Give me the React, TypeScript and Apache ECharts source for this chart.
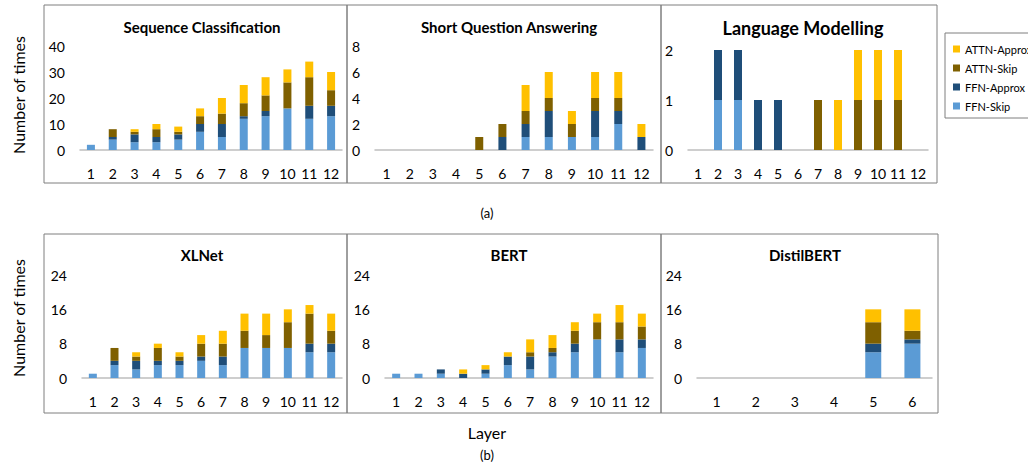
import React, { useEffect, useRef } from "react";
import * as echarts from "echarts";

const layers12 = ["1", "2", "3", "4", "5", "6", "7", "8", "9", "10", "11", "12"];
const layers6 = ["1", "2", "3", "4", "5", "6"];
const legendOrder = ["ATTN-Approx", "ATTN-Skip", "FFN-Approx", "FFN-Skip"];

// Sequence Classification
const seqFfnSkip = [2, 4, 3, 3, 4, 7, 5, 12, 13, 16, 12, 13];
const seqFfnApprox = [0, 1, 3, 2, 2, 3, 5, 1, 2, 0, 5, 4];
const seqAttnSkip = [0, 3, 1, 3, 1, 3, 4, 5, 6, 10, 11, 6];
const seqAttnApprox = [0, 0, 1, 2, 2, 3, 6, 7, 7, 5, 6, 7];

// Short Question Answering
const sqaFfnSkip = [0, 0, 0, 0, 0, 0, 1, 1, 1, 1, 2, 0];
const sqaFfnApprox = [0, 0, 0, 0, 0, 1, 1, 2, 0, 2, 1, 1];
const sqaAttnSkip = [0, 0, 0, 0, 1, 1, 1, 1, 1, 1, 1, 0];
const sqaAttnApprox = [0, 0, 0, 0, 0, 0, 2, 2, 1, 2, 2, 1];

// Language Modelling
const lmFfnSkip = [0, 1, 1, 0, 0, 0, 0, 0, 0, 0, 0, 0];
const lmFfnApprox = [0, 1, 1, 1, 1, 0, 0, 0, 0, 0, 0, 0];
const lmAttnSkip = [0, 0, 0, 0, 0, 0, 1, 0, 1, 1, 1, 0];
const lmAttnApprox = [0, 0, 0, 0, 0, 0, 0, 1, 1, 1, 1, 0];

// XLNet
const xlFfnSkip = [1, 3, 2, 3, 3, 4, 3, 7, 7, 7, 6, 6];
const xlFfnApprox = [0, 1, 2, 1, 1, 1, 2, 0, 0, 0, 2, 2];
const xlAttnSkip = [0, 3, 1, 3, 1, 3, 3, 4, 3, 6, 7, 3];
const xlAttnApprox = [0, 0, 1, 1, 1, 2, 3, 4, 5, 3, 2, 4];

// BERT
const bertFfnSkip = [1, 1, 1, 0, 1, 3, 2, 5, 6, 9, 6, 7];
const bertFfnApprox = [0, 0, 1, 1, 1, 2, 3, 1, 2, 0, 3, 2];
const bertAttnSkip = [0, 0, 0, 0, 0, 0, 1, 1, 3, 4, 4, 3];
const bertAttnApprox = [0, 0, 0, 1, 1, 1, 3, 3, 2, 2, 4, 3];

// DistilBERT
const distFfnSkip = [0, 0, 0, 0, 6, 8];
const distFfnApprox = [0, 0, 0, 0, 2, 1];
const distAttnSkip = [0, 0, 0, 0, 5, 2];
const distAttnApprox = [0, 0, 0, 0, 3, 5];

const COLORS: Record<string, string> = {
  "FFN-Skip": "#5B9BD5",
  "FFN-Approx": "#1F4E79",
  "ATTN-Skip": "#7F6000",
  "ATTN-Approx": "#FFC000",
};

const FONT = "Lato, 'Open Sans', sans-serif";

const panels = [
  { title: "Sequence Classification", cats: layers12, max: 40, interval: 10, data: [seqFfnSkip, seqFfnApprox, seqAttnSkip, seqAttnApprox],
    left: 80, width: 262, top: 46, height: 104, titleX: 197, titleY: 14, titleSize: 15, barWidth: 8, box: [44, 5, 303, 178] },
  { title: "Short Question Answering", cats: layers12, max: 8, interval: 2, data: [sqaFfnSkip, sqaFfnApprox, sqaAttnSkip, sqaAttnApprox],
    left: 375, width: 278, top: 46, height: 104, titleX: 504, titleY: 14, titleSize: 15, barWidth: 8, box: [347, 5, 314, 178] },
  { title: "Language Modelling", cats: layers12, max: 2, interval: 1, data: [lmFfnSkip, lmFfnApprox, lmAttnSkip, lmAttnApprox],
    left: 688, width: 240, top: 50, height: 100, titleX: 798, titleY: 14, titleSize: 18, barWidth: 8, box: [661, 5, 276, 178] },
  { title: "XLNet", cats: layers12, max: 24, interval: 8, data: [xlFfnSkip, xlFfnApprox, xlAttnSkip, xlAttnApprox],
    left: 82, width: 260, top: 275, height: 103, titleX: 197, titleY: 242, titleSize: 15, barWidth: 8, box: [44, 234, 303, 179] },
  { title: "BERT", cats: layers12, max: 24, interval: 8, data: [bertFfnSkip, bertFfnApprox, bertAttnSkip, bertAttnApprox],
    left: 385, width: 268, top: 275, height: 103, titleX: 504, titleY: 242, titleSize: 15, barWidth: 8, box: [347, 234, 314, 179] },
  { title: "DistilBERT", cats: layers6, max: 24, interval: 8, data: [distFfnSkip, distFfnApprox, distAttnSkip, distAttnApprox],
    left: 697, width: 235, top: 275, height: 103, titleX: 800, titleY: 242, titleSize: 15, barWidth: 16, box: [661, 234, 277, 179] },
];

const stackNames = ["FFN-Skip", "FFN-Approx", "ATTN-Skip", "ATTN-Approx"];

export default function App() {
  const ref = useRef<HTMLDivElement>(null);
  useEffect(() => {
    if (!ref.current) return;
    const chart = echarts.init(ref.current, undefined, { renderer: "svg" });
    const grid: any[] = [];
    const xAxis: any[] = [];
    const yAxis: any[] = [];
    const series: any[] = [];
    const title: any[] = [];
    const graphic: any[] = [];
    panels.forEach((p, i) => {
      grid.push({ left: p.left, top: p.top, width: p.width, height: p.height, containLabel: false });
      xAxis.push({
        type: "category", gridIndex: i, data: p.cats,
        axisLine: { lineStyle: { color: "#BFBFBF", width: 1.5 } },
        axisTick: { show: false },
        axisLabel: { color: "#000", fontSize: 14, fontFamily: FONT, margin: 16, interval: 0 },
      });
      yAxis.push({
        type: "value", gridIndex: i, min: 0, max: p.max, interval: p.interval,
        axisLine: { show: false }, axisTick: { show: false }, splitLine: { show: false },
        axisLabel: { color: "#000", fontSize: 14, fontFamily: FONT, margin: 15 },
      });
      stackNames.forEach((name, k) => {
        series.push({
          type: "bar", name, xAxisIndex: i, yAxisIndex: i, stack: "p" + i,
          data: p.data[k], barWidth: p.barWidth,
          itemStyle: { color: COLORS[name] },
        });
      });
      title.push({
        text: p.title, left: p.titleX, top: p.titleY, textAlign: "center",
        textStyle: { fontSize: p.titleSize, fontWeight: "bold", color: "#000", fontFamily: FONT },
      });
      graphic.push({
        type: "rect", shape: { x: p.box[0], y: p.box[1], width: p.box[2], height: p.box[3] },
        style: { fill: "none", stroke: "#7F7F7F", lineWidth: 1 }, silent: true, z: -1,
      });
    });
    graphic.push({
      type: "rect", shape: { x: 945, y: 33, width: 120, height: 85 },
      style: { fill: "none", stroke: "#7F7F7F", lineWidth: 1 }, silent: true,
    });
    const txt = (text: string, x: number, y: number, size: number, rot = 0) => ({
      type: "text", x, y, rotation: rot,
      style: { text, fontSize: size, fontFamily: FONT, fill: "#000", textAlign: "center", textVerticalAlign: "middle" },
    });
    graphic.push(txt("Number of times", 18, 95, 16, Math.PI / 2));
    graphic.push(txt("Number of times", 18, 318, 16, Math.PI / 2));
    graphic.push(txt("(a)", 487, 213, 13));
    graphic.push(txt("Layer", 487, 432, 16));
    graphic.push(txt("(b)", 487, 455, 13));

    chart.setOption({
      animation: false,
      backgroundColor: "#fff",
      title, grid, xAxis, yAxis, series, graphic,
      legend: {
        data: legendOrder, orient: "vertical", left: 948, top: 37,
        itemWidth: 7, itemHeight: 7, itemGap: 5, icon: "rect",
        textStyle: { fontSize: 11, fontFamily: FONT, color: "#000", lineHeight: 14 },
      },
    });
    return () => chart.dispose();
  }, []);
  return <div ref={ref} style={{ position: "fixed", left: 0, top: 0, width: 1028, height: 464 }} />;
}
